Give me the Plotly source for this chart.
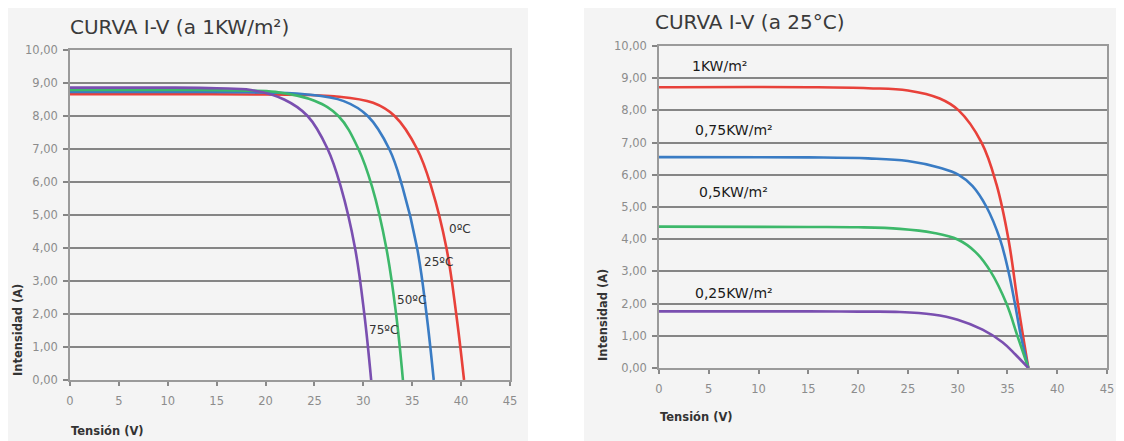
import plotly.graph_objects as go

# ---------------- Data: left chart (1 KW/m², temperature curves) ----------------
t0_v = [0, 12, 20, 27, 31.0, 33.2, 35.5, 37.0, 38.5, 39.5, 40.3]
t0_i = [8.66, 8.66, 8.65, 8.6, 8.4, 8.0, 7.0, 5.8, 4.0, 2.0, 0.0]

t25_v = [0, 12, 18, 24, 28.0, 30.45, 32.65, 34.0, 35.5, 36.46, 37.2]
t25_i = [8.73, 8.73, 8.72, 8.66, 8.45, 8.0, 7.0, 5.85, 4.0, 2.0, 0.0]

t50_v = [0, 12, 18, 21.0, 25.0, 27.45, 29.5, 30.9, 32.35, 33.35, 34.05]
t50_i = [8.79, 8.79, 8.77, 8.73, 8.46, 8.0, 7.0, 5.85, 4.0, 2.0, 0.0]

t75_v = [0, 10, 15, 18.5, 21.9, 24.3, 26.35, 27.7, 29.15, 30.1, 30.8]
t75_i = [8.86, 8.86, 8.84, 8.79, 8.5, 8.0, 7.0, 5.85, 4.0, 2.0, 0.0]

temp_labels = ["0ºC", "25ºC", "50ºC", "75ºC"]
temp_label_v = [38.6, 35.96, 33.2, 30.4]
temp_label_i = [4.58, 3.59, 2.42, 1.52]

# ---------------- Data: right chart (25°C, irradiance curves) ----------------
g100_v = [0, 15, 21, 25, 28.2, 30.1, 32.4, 33.9, 35.1, 36.05, 37.1]
g100_i = [8.72, 8.72, 8.69, 8.62, 8.37, 8.0, 7.0, 5.7, 4.0, 2.0, 0.0]

g75_v = [0, 15, 21, 25, 28.2, 30.1, 31.5, 32.9, 34.25, 35.1, 35.75, 36.35, 37.1]
g75_i = [6.55, 6.54, 6.51, 6.43, 6.22, 6.0, 5.65, 5.0, 4.0, 3.0, 2.0, 1.0, 0.0]

g50_v = [0, 15, 20, 24.2, 27.5, 30.0, 31.8, 33.3, 34.9, 36.0, 37.1]
g50_i = [4.39, 4.38, 4.37, 4.32, 4.2, 3.99, 3.6, 3.0, 2.0, 1.0, 0.0]

g25_v = [0, 15, 20, 24.2, 27.5, 30.0, 32.5, 34.5, 35.8, 37.1]
g25_i = [1.76, 1.76, 1.75, 1.74, 1.66, 1.5, 1.19, 0.8, 0.42, 0.0]

irr_labels = ["1KW/m²", "0,75KW/m²", "0,5KW/m²", "0,25KW/m²"]
irr_label_v = [3.1, 3.4, 3.8, 3.4]
irr_label_i = [9.38, 7.4, 5.47, 2.33]

# ---------------- Axis ticks ----------------
x_tickvals = [0, 5, 10, 15, 20, 25, 30, 35, 40, 45]
x_ticktext = ["0", "5", "10", "15", "20", "25", "30", "35", "40", "45"]
y_tickvals = [0, 1, 2, 3, 4, 5, 6, 7, 8, 9, 10]
y_ticktext = ["0,00", "1,00", "2,00", "3,00", "4,00", "5,00", "6,00", "7,00", "8,00", "9,00", "10,00"]

titles = ["CURVA I-V (a 1KW/m²)", "CURVA I-V (a 25°C)"]

RED = "#e8413a"
BLUE = "#3a7cc4"
GREEN = "#3db86a"
PURPLE = "#7a4fb0"

# page has an 8px body margin: the figure covers 8..1124 x 8..441 of the window
W, H = 1116, 433
OFF = 8


def px(x):
    return (x - OFF) / W


def py(y):
    return 1 - (y - OFF) / H


fig = go.Figure()

left = [(t0_v, t0_i, RED), (t25_v, t25_i, BLUE), (t50_v, t50_i, GREEN), (t75_v, t75_i, PURPLE)]
for v, i, c in left:
    fig.add_trace(go.Scatter(x=v, y=i, mode="lines", line=dict(color=c, width=2.6, shape="spline", smoothing=1.1),
                             xaxis="x", yaxis="y", showlegend=False, hoverinfo="skip"))

right = [(g100_v, g100_i, RED), (g75_v, g75_i, BLUE), (g50_v, g50_i, GREEN), (g25_v, g25_i, PURPLE)]
for v, i, c in right:
    fig.add_trace(go.Scatter(x=v, y=i, mode="lines", line=dict(color=c, width=2.6, shape="spline", smoothing=1.1),
                             xaxis="x2", yaxis="y2", showlegend=False, hoverinfo="skip"))

FONT = "DejaVu Sans"
axis_common = dict(
    range=[0, 45], tickvals=x_tickvals, ticktext=x_ticktext, showgrid=False, zeroline=False,
    showline=True, linecolor="#9a9a9a", linewidth=1.5, mirror=True,
    ticks="outside", ticklen=4, tickcolor="#8a8a8a", tickwidth=1.5, automargin=False,
    ticklabelstandoff=5,
    tickfont=dict(family=FONT, size=11.5, color="#8c8c8c"), fixedrange=True,
)
yaxis_common = dict(
    range=[0, 10], tickvals=y_tickvals, ticktext=y_ticktext, showgrid=True, gridcolor="#858585", gridwidth=2,
    zeroline=False, showline=True, linecolor="#9a9a9a", linewidth=1.5, mirror=True,
    ticks="outside", ticklen=5, tickcolor="#858585", tickwidth=1.5, automargin=False,
    ticklabelstandoff=3,
    tickfont=dict(family=FONT, size=11.5, color="#8c8c8c"), fixedrange=True,
)

fig.update_layout(
    width=W, height=H,
    margin=dict(l=0, r=0, t=0, b=0, autoexpand=False),
    paper_bgcolor="white", plot_bgcolor="white",
    xaxis=dict(domain=[px(70), px(510)], anchor="y", **axis_common),
    yaxis=dict(domain=[py(380), py(50)], anchor="x", **yaxis_common),
    xaxis2=dict(domain=[px(659), px(1107)], anchor="y2", **axis_common),
    yaxis2=dict(domain=[py(368), py(46)], anchor="x2", **yaxis_common),
    shapes=[
        dict(type="rect", xref="paper", yref="paper", x0=0, x1=px(528), y0=0, y1=1,
             fillcolor="#f4f4f4", line=dict(width=0), layer="below"),
        dict(type="rect", xref="paper", yref="paper", x0=px(584), x1=1, y0=0, y1=1,
             fillcolor="#f4f4f4", line=dict(width=0), layer="below"),
    ],
)

annotations = []
# Titles
annotations.append(dict(text=titles[0], xref="paper", yref="paper", x=px(68), y=py(27), xanchor="left",
                        yanchor="middle", showarrow=False, font=dict(family=FONT, size=20, color="#3a3a3a")))
annotations.append(dict(text=titles[1], xref="paper", yref="paper", x=px(653), y=py(22), xanchor="left",
                        yanchor="middle", showarrow=False, font=dict(family=FONT, size=20, color="#3a3a3a")))
# Axis titles
annotations.append(dict(text="<b>Intensidad (A)</b>", xref="paper", yref="paper", x=px(18), y=py(330),
                        xanchor="center", yanchor="middle", textangle=-90, showarrow=False,
                        font=dict(family=FONT, size=11.5, color="#333333")))
annotations.append(dict(text="<b>Intensidad (A)</b>", xref="paper", yref="paper", x=px(603), y=py(315),
                        xanchor="center", yanchor="middle", textangle=-90, showarrow=False,
                        font=dict(family=FONT, size=11.5, color="#333333")))
annotations.append(dict(text="<b>Tensión (V)</b>", xref="paper", yref="paper", x=px(69), y=py(431),
                        xanchor="left", yanchor="middle", showarrow=False,
                        font=dict(family=FONT, size=11.5, color="#333333")))
annotations.append(dict(text="<b>Tensión (V)</b>", xref="paper", yref="paper", x=px(658), y=py(417),
                        xanchor="left", yanchor="middle", showarrow=False,
                        font=dict(family=FONT, size=11.5, color="#333333")))
# Curve labels left
for t, v, i in zip(temp_labels, temp_label_v, temp_label_i):
    annotations.append(dict(text=t, xref="x", yref="y", x=v, y=i, xanchor="left", yanchor="middle",
                            showarrow=False, font=dict(family=FONT, size=12, color="#333333")))
# Curve labels right
for t, v, i in zip(irr_labels, irr_label_v, irr_label_i):
    annotations.append(dict(text=t, xref="x2", yref="y2", x=v, y=i, xanchor="left", yanchor="middle",
                            showarrow=False, font=dict(family=FONT, size=14, color="#1a1a1a")))

fig.update_layout(annotations=annotations)

fig.write_html("out.html")
